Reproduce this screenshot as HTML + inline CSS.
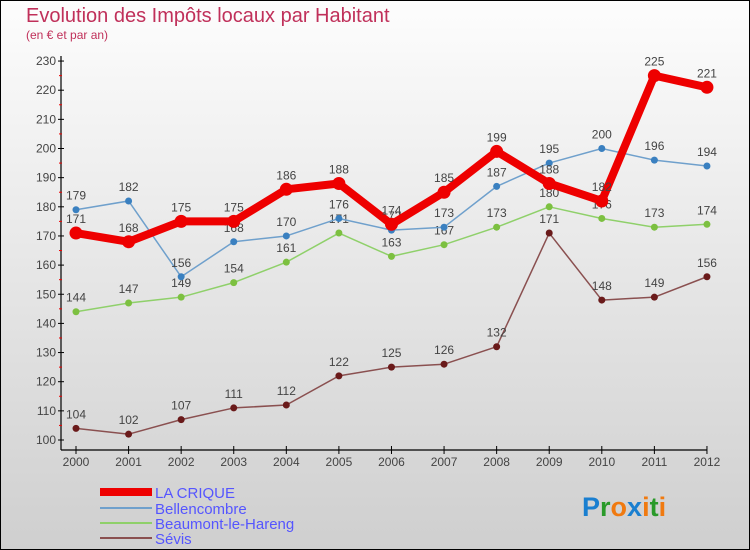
<!DOCTYPE html>
<html><head><meta charset="utf-8"><style>
body{margin:0}
svg{display:block;font-family:"Liberation Sans",sans-serif}
</style></head><body>
<svg width="750" height="550" id="c">
<defs><linearGradient id="bg" x1="0" y1="0" x2="0" y2="1"><stop offset="0" stop-color="#fdfdfd"/><stop offset="1" stop-color="#cfcfcf"/></linearGradient></defs>
<rect x="0.5" y="0.5" width="749" height="549" fill="url(#bg)" stroke="#000"/>
<text x="26" y="22" font-size="20" fill="#c0305a">Evolution des Impôts locaux par Habitant</text>
<text x="26" y="39" font-size="12" fill="#c0305a">(en € et par an)</text>
<g id="axes"></g><g id="series"></g>
<g font-size="15" fill="#5555ff">
<line x1="100" y1="492" x2="152" y2="492" stroke="#e00" stroke-width="8"/>
<text x="155" y="498" fill="#5555ff">LA CRIQUE</text>
<line x1="100" y1="508" x2="152" y2="508" stroke="#6fa0cc" stroke-width="2"/>
<text x="155" y="514" fill="#5555ff">Bellencombre</text>
<line x1="100" y1="523" x2="152" y2="523" stroke="#8fd06a" stroke-width="2"/>
<text x="155" y="529" fill="#5555ff">Beaumont-le-Hareng</text>
<line x1="100" y1="538" x2="152" y2="538" stroke="#8a5050" stroke-width="2"/>
<text x="155" y="544" fill="#5555ff">Sévis</text>
</g>
<text x="582" y="516" font-size="27" font-weight="bold"><tspan fill="#1a7fd0">P</tspan><tspan fill="#2a9a2a">r</tspan><tspan fill="#f07a10">o</tspan><tspan fill="#1a7fd0">x</tspan><tspan fill="#f07a10">i</tspan><tspan fill="#2a9a2a">t</tspan><tspan fill="#f07a10">i</tspan></text>
</svg>
<script>
const years=[2000,2001,2002,2003,2004,2005,2006,2007,2008,2009,2010,2011,2012];
const yTicks=[100,110,120,130,140,150,160,170,180,190,200,210,220,230];
const laCrique=[171,168,175,175,186,188,174,185,199,188,182,225,221];
const bellencombre=[179,182,156,168,170,176,172,173,187,195,200,196,194];
const beaumont=[144,147,149,154,161,171,163,167,173,180,176,173,174];
const sevis=[104,102,107,111,112,122,125,126,132,171,148,149,156];
const NS="http://www.w3.org/2000/svg";
const x=i=>76+i*52.58;
const y=v=>440-(v-100)*2.915;
function mk(t,a,p){const e=document.createElementNS(NS,t);for(const k in a)e.setAttribute(k,a[k]);p.appendChild(e);return e;}
const ax=document.getElementById('axes'),sg=document.getElementById('series');
let l=mk('line',{x1:61,y1:56,x2:61,y2:450,stroke:'#000','stroke-width':1.2},ax);


l=mk('line',{x1:61,y1:450,x2:707,y2:450,stroke:'#000','stroke-width':1.2},ax);


yTicks.forEach(v=>{
 mk('line',{x1:58,y1:y(v),x2:64,y2:y(v),stroke:'#000'},ax);
 if(v<230)mk('line',{x1:59,y1:y(v+5),x2:62,y2:y(v+5),stroke:'#e00'},ax);
 const t=mk('text',{x:56,y:y(v)+4,'font-size':12,'text-anchor':'end',fill:'#444'},ax);
 t.textContent=v;
 
 
});
years.forEach((yr,i)=>{
 mk('line',{x1:x(i),y1:446,x2:x(i),y2:454,stroke:'#000'},ax);
 const t=mk('text',{x:x(i),y:466,'font-size':12,'text-anchor':'middle',fill:'#444'},ax);
 t.textContent=yr;
 
 
});
function series(d,color,w,r,dot,name){
 const g=mk('g',{},sg);
 
 
 const p=mk('polyline',{points:d.map((v,i)=>x(i)+','+y(v)).join(' '),fill:'none',stroke:color,'stroke-width':w,'stroke-linejoin':'round'},g);
 
 
 d.forEach((v,i)=>{
  const c=mk('circle',{cx:x(i),cy:y(v),r:r,fill:dot},g);
  
  
  const t=mk('text',{x:x(i),y:y(v)-10,'font-size':12,'text-anchor':'middle',fill:'#444'},g);
  t.textContent=v;
  
  
 });
}
series(sevis,'#8a5050',1.5,3.5,'#6a1a1a','sevis');
series(beaumont,'#8fd06a',1.5,3.5,'#7cc040','beaumont');
series(bellencombre,'#6fa0cc',1.5,3.5,'#3a80c0','bellencombre');
series(laCrique,'#ee0000',8,6.5,'#ee0000','la-crique');
</script>
</body></html>
